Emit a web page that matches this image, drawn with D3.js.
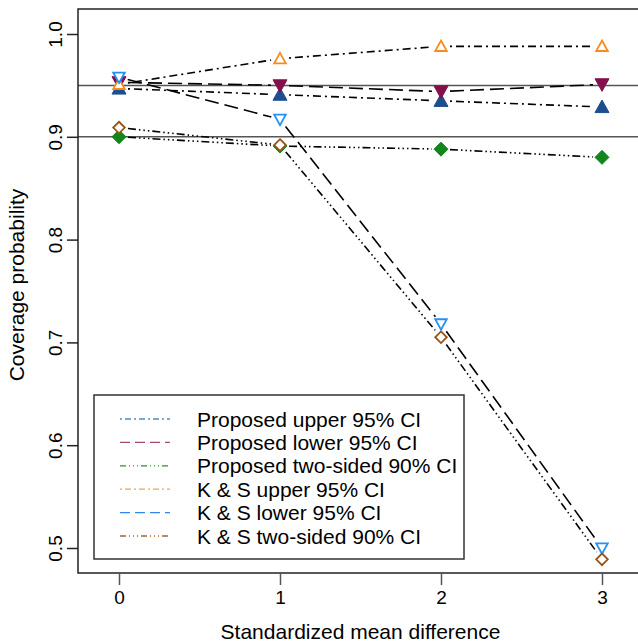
<!DOCTYPE html>
<html>
<head>
<meta charset="utf-8">
<script src="https://cdn.jsdelivr.net/npm/d3@7"></script>
<style>
  body { margin: 0; background: #fff; }
  svg { font-family: "Liberation Sans", Arial, sans-serif; }
</style>
</head>
<body>
<div id="chart"></div>
<script>
// x values (standardized mean difference)
const diffs = [0, 1, 2, 3]

// coverage probabilities for each method
const propUpper = [0.947, 0.941, 0.935, 0.929]
const propLower = [0.953, 0.950, 0.944, 0.951]
const propTwo   = [0.900, 0.891, 0.888, 0.880]
const ksUpper   = [0.951, 0.976, 0.988, 0.988]
const ksLower   = [0.958, 0.917, 0.718, 0.500]
const ksTwo     = [0.909, 0.892, 0.705, 0.489]

const seriesNames = ['Proposed upper 95% CI', 'Proposed lower 95% CI', 'Proposed two-sided 90% CI',
  'K & S upper 95% CI', 'K & S lower 95% CI', 'K & S two-sided 90% CI']
const refLevels = [0.95, 0.90]
const yTicks = [0.5, 0.6, 0.7, 0.8, 0.9, 1.0]
const xTicks = [0, 1, 2, 3]

const W = 638, H = 642
const box = {left: 78, top: 9, right: 643, bottom: 573}
const font = '"Liberation Sans", Arial, sans-serif'

const svg = d3.select('#chart').append('svg')
  .attr('width', W).attr('height', H)

const xScale = d3.scaleLinear().domain([0, 3]).range([119, 602])
const yScale = d3.scaleLinear().domain([0.5, 1.0]).range([548, 34])

const upDash = '2,4,8,4'
const longDash = '14,6'
const twoDash = '8,3,1.5,3,1.5,3,1.5,3'

const series = [
  {name: seriesNames[0], vals: propUpper, dash: upDash, ldash: '2,3,6,3', lcol: '#5b87bd', mcol: '#1d4f8f', shape: 'up', fill: true},
  {name: seriesNames[1], vals: propLower, dash: longDash, ldash: '10,5', lcol: '#a8487a', mcol: '#82104a', shape: 'down', fill: true},
  {name: seriesNames[2], vals: propTwo, dash: twoDash, ldash: '6,3,1,3,1,3,1,3', lcol: '#23962a', mcol: '#12861a', shape: 'diamond', fill: true},
  {name: seriesNames[3], vals: ksUpper, dash: upDash, ldash: '2,3,6,3', lcol: '#f3a25c', mcol: '#fb8a1c', shape: 'up', fill: false},
  {name: seriesNames[4], vals: ksLower, dash: longDash, ldash: '10,5', lcol: '#2f86ec', mcol: '#2492f5', shape: 'down', fill: false},
  {name: seriesNames[5], vals: ksTwo, dash: twoDash, ldash: '6,3,1,3,1,3,1,3', lcol: '#a8672f', mcol: '#9a5219', shape: 'diamond', fill: false}
]

// clip to plot box
svg.append('clipPath').attr('id', 'clip')
  .append('rect').attr('x', box.left).attr('y', box.top)
  .attr('width', box.right - box.left).attr('height', box.bottom - box.top)

// reference lines
svg.append('g').attr('clip-path', 'url(#clip)')
  .selectAll('line').data(refLevels).join('line')
  .attr('x1', box.left).attr('x2', box.right)
  .attr('y1', d => yScale(d)).attr('y2', d => yScale(d))
  .attr('stroke', '#555').attr('stroke-width', 1.5)

// lines with gaps at points (like R type="b")
const gap = 9
const lines = svg.append('g').attr('clip-path', 'url(#clip)')
series.forEach(s => {
  const pts = s.vals.map((v, i) => [xScale(diffs[i]), yScale(v)])
  for (let i = 0; i < pts.length - 1; i++) {
    const [x0, y0] = pts[i], [x1, y1] = pts[i + 1]
    const len = Math.hypot(x1 - x0, y1 - y0)
    const ux = (x1 - x0) / len, uy = (y1 - y0) / len
    lines.append('line')
      .attr('x1', x0 + ux * gap).attr('y1', y0 + uy * gap)
      .attr('x2', x1 - ux * gap).attr('y2', y1 - uy * gap)
      .attr('stroke', '#000').attr('stroke-width', 1.6)
      .attr('stroke-dasharray', s.dash)
  }
})

// markers
function shapePath(shape, filled) {
  const r = filled ? 7 : 5.8
  if (shape == 'up') return `M0,${-r}L${r},${r * 0.8}L${-r},${r * 0.8}Z`
  if (shape == 'down') return `M0,${r}L${r},${-r * 0.8}L${-r},${-r * 0.8}Z`
  return `M0,${-r}L${r},0L0,${r}L${-r},0Z`
}
const marks = svg.append('g')
series.forEach(s => {
  marks.selectAll(null).data(s.vals).join('path')
    .attr('transform', (d, i) => `translate(${xScale(diffs[i])},${yScale(d)})`)
    .attr('d', shapePath(s.shape, s.fill))
    .attr('fill', s.fill ? s.mcol : '#fff')
    .attr('stroke', s.mcol)
    .attr('stroke-width', s.fill ? 1 : 1.8)
})

// plot box
svg.append('rect')
  .attr('x', box.left).attr('y', box.top)
  .attr('width', box.right - box.left).attr('height', box.bottom - box.top)
  .attr('fill', 'none').attr('stroke', '#222').attr('stroke-width', 1.5)

// axes
let xAxis = d3.axisBottom(xScale).tickValues(xTicks).tickSize(12).tickPadding(6)
  .tickFormat(d3.format('d'))
let gx = svg.append('g').attr('transform', `translate(0,${box.bottom})`).call(xAxis)
gx.select('.domain').remove()
gx.selectAll('line').attr('stroke', '#555').attr('stroke-width', 1.5)
gx.selectAll('text').attr('font-size', 19).attr('fill', '#000')
  .attr('font-family', font)

let yAxis = d3.axisLeft(yScale).tickValues(yTicks).tickSize(11)
  .tickFormat(d3.format('.1f'))
let gy = svg.append('g').attr('transform', `translate(${box.left},0)`).call(yAxis)
gy.select('.domain').remove()
gy.selectAll('line').attr('stroke', '#222').attr('stroke-width', 1.5)
gy.selectAll('text')
  .attr('font-size', 19).attr('fill', '#000')
  .attr('font-family', font)
  .attr('text-anchor', 'middle').attr('dy', null)
  .attr('x', null)
  .attr('transform', 'translate(-16,0) rotate(-90)')

// axis titles
svg.append('text')
  .attr('x', (box.left + box.right) / 2).attr('y', 639)
  .attr('text-anchor', 'middle').attr('font-size', 21)
  .text('Standardized mean difference')
svg.append('text')
  .attr('transform', `translate(24,${(box.top + box.bottom) / 2 - 6}) rotate(-90)`)
  .attr('text-anchor', 'middle').attr('font-size', 21)
  .text('Coverage probability')

// legend
const leg = svg.append('g')
leg.append('rect')
  .attr('x', 94).attr('y', 395).attr('width', 370).attr('height', 164)
  .attr('fill', '#fff').attr('stroke', '#333').attr('stroke-width', 1.5)
series.forEach((s, i) => {
  const y = 419 + i * 23.4
  leg.append('line')
    .attr('x1', 120).attr('x2', 170).attr('y1', y).attr('y2', y)
    .attr('stroke', s.lcol).attr('stroke-width', 1.3)
    .attr('stroke-dasharray', s.ldash)
  leg.append('text')
    .attr('x', 197).attr('y', y + 7.5)
    .attr('font-size', 21)
    .text(s.name)
})
</script>
</body>
</html>
